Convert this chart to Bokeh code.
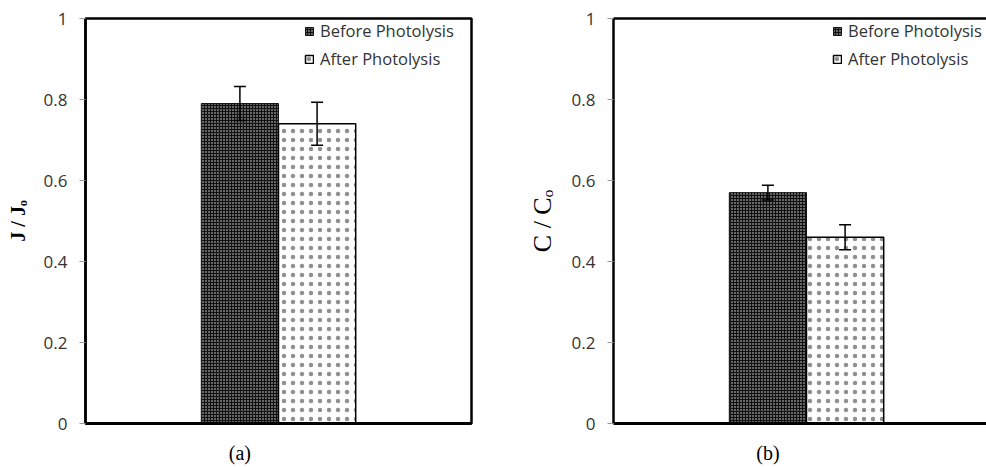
from bokeh.plotting import figure
from bokeh.layouts import row
from bokeh.models import ColumnDataSource, Whisker, Legend, LegendItem, LinearAxis, FixedTicker, Range1d
from bokeh.embed import file_html
from bokeh.resources import INLINE

# ---- data ----
series = ["Before Photolysis", "After Photolysis"]
bar_pos = [2, 3]
panel_a_values = [0.79, 0.74]
panel_a_errors = [0.042, 0.053]
panel_b_values = [0.57, 0.46]
panel_b_errors = [0.018, 0.031]
y_ticks = [0, 0.2, 0.4, 0.6, 0.8, 1]
y_tick_labels = {0: "0", 0.2: "0.2", 0.4: "0.4", 0.6: "0.6", 0.8: "0.8", 1: "1"}

TICK_FONT = "Open Sans"
SERIF = "Liberation Serif"
PX_PER_UNIT = 77.2


def make_panel(values, errors, ylabel, ylabel_style, panel_label, width, x_end,
               border_left, border_right, open_right):
    p = figure(width=width, height=467, output_backend="svg", toolbar_location=None,
               x_range=Range1d(0, x_end), y_range=Range1d(0, 1),
               min_border_left=border_left, min_border_right=border_right,
               min_border_top=18, min_border_bottom=44,
               x_axis_location=None, y_axis_location=None)
    p.grid.visible = False
    p.background_fill_color = "white"
    p.border_fill_color = "white"

    if open_right:
        p.outline_line_color = None
        top = LinearAxis(ticker=FixedTicker(ticks=[]), major_tick_line_color=None,
                         minor_tick_line_color=None, axis_line_color="black",
                         axis_line_width=2.5)
        p.add_layout(top, "above")
    else:
        p.outline_line_color = "black"
        p.outline_line_width = 2.5

    # y axis
    yax = LinearAxis(ticker=FixedTicker(ticks=y_ticks), major_label_overrides=y_tick_labels,
                     axis_line_color="black", axis_line_width=2.5,
                     major_tick_line_color="#999999", major_tick_out=6, major_tick_in=0,
                     minor_tick_line_color=None,
                     major_label_text_font=TICK_FONT, major_label_text_font_size="17px",
                     major_label_text_color="#333333", major_label_standoff=12,
                     axis_label=ylabel, axis_label_text_font=SERIF,
                     axis_label_text_font_style=ylabel_style[0],
                     axis_label_text_font_size=ylabel_style[1],
                     axis_label_text_color="black", axis_label_standoff=ylabel_style[2])
    p.add_layout(yax, "left")

    # x axis (bottom line + panel label)
    xax = LinearAxis(ticker=FixedTicker(ticks=[bar_pos[0]]),
                     major_label_overrides={bar_pos[0]: panel_label},
                     axis_line_color="black", axis_line_width=3,
                     major_tick_line_color=None, minor_tick_line_color=None,
                     major_tick_out=0, major_tick_in=0,
                     major_label_text_font=SERIF, major_label_text_font_size="20px",
                     major_label_text_color="black", major_label_standoff=18)
    p.add_layout(xax, "below")

    src = ColumnDataSource(dict(x=bar_pos, top=values,
                                upper=[v + e for v, e in zip(values, errors)],
                                lower=[v - e for v, e in zip(values, errors)]))
    b1 = p.vbar(x=[bar_pos[0]], top=[values[0]], width=1, bottom=0,
                fill_color="#111111", line_color="#111111", line_width=1,
                hatch_pattern="dot", hatch_color="#e8e8e8", hatch_scale=3, hatch_weight=1)
    b2 = p.vbar(x=[bar_pos[1]], top=[values[1]], width=1, bottom=0,
                fill_color="white", line_color="black", line_width=1.5,
                hatch_pattern="dot", hatch_color="#222222", hatch_alpha=0.5,
                hatch_scale=9, hatch_weight=0.3)

    w = Whisker(source=src, base="x", upper="upper", lower="lower",
                line_color="black", line_width=1.5, level="annotation")
    w.upper_head.size = 12
    w.lower_head.size = 12
    w.upper_head.line_width = 1.5
    w.lower_head.line_width = 1.5
    p.add_layout(w)

    legend = Legend(items=[LegendItem(label=series[0], renderers=[b1]),
                           LegendItem(label=series[1], renderers=[b2])],
                    location=(219, 353), orientation="vertical",
                    background_fill_alpha=0, border_line_color=None,
                    padding=0, margin=0, spacing=5,
                    glyph_width=10, glyph_height=10, label_height=20,
                    label_standoff=6,
                    label_text_font=TICK_FONT, label_text_font_size="16.5px",
                    label_text_color="#333333")
    p.add_layout(legend, "center")
    return p


pa = make_panel(panel_a_values, panel_a_errors, "J / Jₒ", ("bold", "20px", 12), "(a)",
                width=481, x_end=5, border_left=85, border_right=10, open_right=False)
pb = make_panel(panel_b_values, panel_b_errors, "C / Cₒ", ("normal", "26px", 12), "(b)",
                width=505, x_end=373 / PX_PER_UNIT, border_left=132, border_right=0, open_right=True)

layout = row(pa, pb)
open("out.html", "w").write(file_html(layout, INLINE))
